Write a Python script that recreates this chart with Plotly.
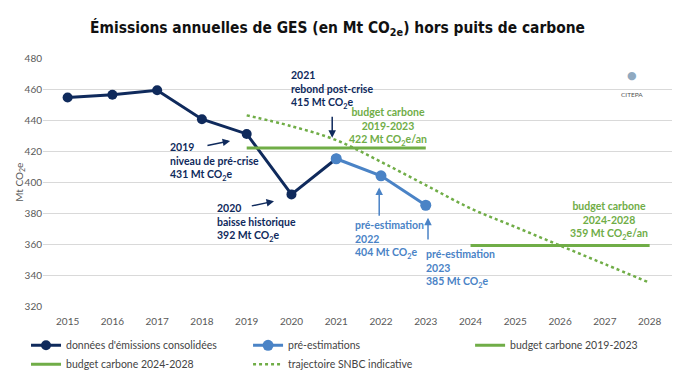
import plotly.graph_objects as go

years_consolidated = [2015, 2016, 2017, 2018, 2019, 2020, 2021]
emissions_consolidated = [454.5, 456.3, 459.2, 440.5, 431, 392, 415]

years_pre = [2021, 2022, 2023]
emissions_pre = [415, 404, 385]

budget1_years = [2019, 2023]
budget1_values = [422, 422]

budget2_years = [2024, 2028]
budget2_values = [359, 359]

snbc_years = [2019, 2020, 2021, 2022, 2023, 2024, 2025, 2026, 2027, 2028]
snbc_values = [443, 436, 427, 413, 398, 383, 371, 359, 347, 335]

x_ticks = list(range(2015, 2029))

NAVY = "#0f2a5c"
BLUE = "#4a83c6"
GREEN = "#70ad47"
FONT = "Lato"

fig = go.Figure()
fig.add_trace(go.Scatter(x=years_consolidated, y=emissions_consolidated, mode="lines+markers",
                         name="données d'émissions consolidées", legend="legend", legendrank=1,
                         line=dict(color=NAVY, width=3), marker=dict(size=10, color=NAVY)))
fig.add_trace(go.Scatter(x=years_pre, y=emissions_pre, mode="lines+markers",
                         name="pré-estimations", legend="legend2", legendrank=1,
                         line=dict(color=BLUE, width=3), marker=dict(size=11, color=BLUE)))
fig.add_trace(go.Scatter(x=budget1_years, y=budget1_values, mode="lines", legend="legend3",
                         name="budget carbone 2019-2023", line=dict(color=GREEN, width=3)))
fig.add_trace(go.Scatter(x=budget2_years, y=budget2_values, mode="lines", legend="legend", legendrank=2,
                         name="budget carbone 2024-2028", line=dict(color=GREEN, width=3)))
fig.add_trace(go.Scatter(x=snbc_years, y=snbc_values, mode="lines", line_shape="spline",
                         legend="legend2", legendrank=2,
                         name="trajectoire SNBC indicative", line=dict(color=GREEN, width=2.5, dash="dot")))

def note(x, y, text, color, align="left", xanchor="left"):
    fig.add_annotation(x=x, y=y, xref="x", yref="y", text=text, showarrow=False,
                       font=dict(family=FONT, size=10.5, color=color), align=align,
                       xanchor=xanchor, yanchor="top")

def arrow(x0, y0, x1, y1, color):
    fig.add_annotation(x=x1, y=y1, ax=x0, ay=y0, xref="x", yref="y", axref="x", ayref="y",
                       text="", showarrow=True, arrowhead=2, arrowsize=1, arrowwidth=1.5,
                       arrowcolor=color)

note(2019.95, 474, "<b>2021<br>rebond post-crise<br>415 Mt CO<sub>2</sub>e</b>", NAVY)
arrow(2020.91, 443, 2020.91, 428.5, NAVY)
note(2022.16, 450.5, "<b>budget carbone<br>2019-2023<br>422 Mt CO<sub>2</sub>e/an</b>", GREEN, "center", "center")
note(2017.25, 428, "<b>2019<br>niveau de pré-crise<br>431 Mt CO<sub>2</sub>e</b>", NAVY)
arrow(2018.09, 423.3, 2018.63, 426.5, NAVY)
note(2018.3, 388.5, "<b>2020<br>baisse historique<br>392 Mt CO<sub>2</sub>e</b>", NAVY)
arrow(2019.08, 384.4, 2019.61, 387.6, NAVY)
note(2021.38, 377.5, "<b>pré-estimation<br>2022<br>404 Mt CO<sub>2</sub>e</b>", BLUE)
arrow(2021.96, 377.3, 2021.96, 396.5, BLUE)
note(2022.96, 358.5, "<b>pré-estimation<br>2023<br>385 Mt CO<sub>2</sub>e</b>", BLUE)
arrow(2023.05, 362, 2023.05, 377, BLUE)
note(2027.1, 389.5, "<b>budget carbone<br>2024-2028<br>359 Mt CO<sub>2</sub>e/an</b>", GREEN, "center", "center")

fig.add_annotation(x=2027.61, y=469, xref="x", yref="y", text="●", showarrow=False,
                   font=dict(family="DejaVu Sans", size=11, color="#8fa9c0"))
fig.add_annotation(x=2027.61, y=456.4, xref="x", yref="y", text="CITEPA", showarrow=False,
                   font=dict(family=FONT, size=6.5, color="#555555"))

fig.add_annotation(x=-0.052, y=0.5, xref="paper", yref="paper", text="Mt CO<sub>2</sub>e",
                   textangle=-90, showarrow=False,
                   font=dict(family=FONT, size=10, color="#595959"))

leg_common = dict(orientation="v", xanchor="left", y=-0.1, yanchor="top",
                  tracegroupgap=0, bgcolor="rgba(0,0,0,0)",
                  font=dict(family=FONT, size=10.5, color="#444444"))

fig.update_layout(
    width=675, height=382,
    margin=dict(l=43, r=3, t=58, b=73),
    paper_bgcolor="white", plot_bgcolor="white",
    title=dict(text="<b>Émissions annuelles de GES (en Mt CO<sub>2e</sub>) hors puits de carbone</b>",
               x=0.5, xanchor="center", y=0.929, yanchor="middle",
               font=dict(family="DejaVu Sans Condensed, DejaVu Sans", size=15.4, color="#111111")),
    showlegend=True,
    legend=dict(x=-0.027, **leg_common),
    legend2=dict(x=0.326, **leg_common),
    legend3=dict(x=0.679, **leg_common),
    font=dict(family=FONT),
)
fig.update_xaxes(range=[2014.45, 2028.5], tickmode="array", tickvals=x_ticks,
                 ticktext=[str(t) for t in x_ticks], showgrid=False, zeroline=False,
                 showline=False, ticklabelstandoff=8,
                 tickfont=dict(family=FONT, size=10, color="#595959"))
fig.update_yaxes(range=[320, 480], dtick=20, showgrid=True, gridcolor="#d9d9d9", gridwidth=1,
                 zeroline=False, showline=False, ticks="", automargin=False,
                 tickfont=dict(family=FONT, size=10, color="#595959"))

fig.write_html("out.html", config={"displayModeBar": False},
               post_script="document.body.style.margin='0';")
